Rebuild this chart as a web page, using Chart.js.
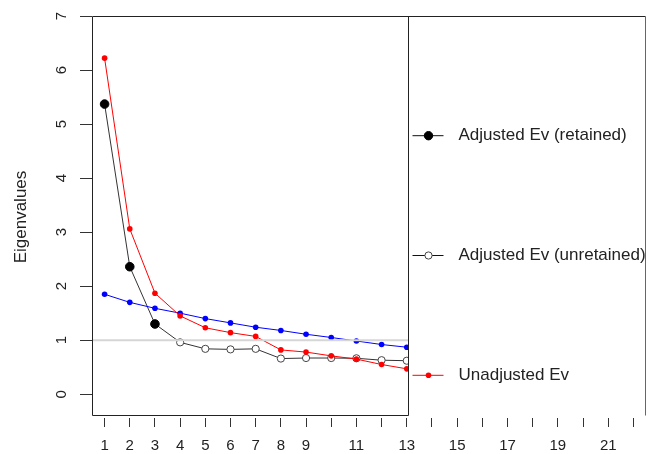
<!DOCTYPE html>
<html>
<head>
<meta charset="utf-8">
<title>Parallel analysis</title>
<script src="https://cdn.jsdelivr.net/npm/chart.js@4.4.1/dist/chart.umd.min.js"></script>
<style>
  body { margin: 0; background: #fff; }
  canvas { display: block; }
</style>
</head>
<body>
<canvas id="screePlot" width="656" height="454"></canvas>
<script>
// Component numbers and eigenvalues
const components = [1, 2, 3, 4, 5, 6, 7, 8, 9, 10, 11, 12, 13];
const adjustedEv = [5.37, 2.36, 1.30, 0.96, 0.84, 0.83, 0.84, 0.66, 0.67, 0.67, 0.665, 0.63, 0.62];
const unadjustedEv = [6.22, 3.06, 1.87, 1.45, 1.23, 1.14, 1.07, 0.82, 0.78, 0.71, 0.65, 0.55, 0.47];
const randomEv = [1.85, 1.70, 1.59, 1.50, 1.40, 1.32, 1.24, 1.18, 1.11, 1.05, 0.985, 0.92, 0.87];
const retainedCount = 3;

// Axis ticks
const xTickValues = [1, 2, 3, 4, 5, 6, 7, 8, 9, 10, 11, 12, 13, 14, 15, 16, 17, 18, 19, 20, 21, 22];
const xTickLabels = ["1", "2", "3", "4", "5", "6", "7", "8", "9", "", "11", "", "13", "", "15", "", "17", "", "19", "", "21", ""];
const yTickValues = [0, 1, 2, 3, 4, 5, 6, 7];
const legendLabels = ["Adjusted Ev (retained)", "Adjusted Ev (unretained)", "Unadjusted Ev"];

Chart.defaults.font.family = "'Liberation Sans', Arial, sans-serif";

const toPoints = (values) => values.map((v, i) => ({ x: components[i], y: v }));

// Reference line at eigenvalue 1, the plot box and the legend panel on the right
const framePlugin = {
  id: "frame",
  afterDatasetsDraw(chart) {
    const { ctx, chartArea, scales } = chart;
    const x = scales.x;
    const y = scales.y;
    const left = chartArea.left + 0.5;
    const top = chartArea.top + 0.5;
    const boxBottom = chartArea.bottom - 3 + 0.5;
    const panelLeft = Math.round(x.getPixelForValue(13)) + 1.5;
    const panelRight = chartArea.right - 0.5;

    ctx.save();

    // eigenvalue = 1
    ctx.strokeStyle = "#d6d6d6";
    ctx.lineWidth = 2;
    ctx.beginPath();
    ctx.moveTo(chartArea.left, y.getPixelForValue(1));
    ctx.lineTo(panelLeft, y.getPixelForValue(1));
    ctx.stroke();

    // legend panel covers the unused part of the x range
    ctx.fillStyle = "#fff";
    ctx.fillRect(panelLeft, top, panelRight - panelLeft, boxBottom - top + 1);

    ctx.lineWidth = 1;
    ctx.strokeStyle = "#222";
    ctx.beginPath();
    ctx.moveTo(panelRight, top);
    ctx.lineTo(left, top);
    ctx.lineTo(left, boxBottom);
    ctx.lineTo(panelLeft, boxBottom);
    ctx.lineTo(panelLeft, top);
    ctx.stroke();

    ctx.strokeStyle = "#666";
    ctx.beginPath();
    ctx.moveTo(panelRight, top);
    ctx.lineTo(panelRight, boxBottom);
    ctx.stroke();

    // legend entries
    const styles = [
      { line: "#111", fill: "#000", stroke: "#000", r: 4.2 },
      { line: "#111", fill: "#fff", stroke: "#444", r: 3.6 },
      { line: "#ff0000", fill: "#ff0000", stroke: null, r: 2.8 }
    ];
    const firstRow = 135.7;
    const rowGap = 119.8;
    ctx.font = "17px 'Liberation Sans', Arial, sans-serif";
    ctx.textBaseline = "middle";
    legendLabels.forEach((label, i) => {
      const s = styles[i];
      const ry = firstRow + i * rowGap;
      ctx.strokeStyle = s.line;
      ctx.lineWidth = 1;
      ctx.beginPath();
      ctx.moveTo(panelLeft + 4, ry);
      ctx.lineTo(panelLeft + 35, ry);
      ctx.stroke();
      ctx.beginPath();
      ctx.arc(panelLeft + 20, ry, s.r, 0, Math.PI * 2);
      ctx.fillStyle = s.fill;
      ctx.fill();
      if (s.stroke) {
        ctx.strokeStyle = s.stroke;
        ctx.stroke();
      }
      ctx.fillStyle = "#222";
      ctx.fillText(label, panelLeft + 50, ry);
    });

    ctx.restore();
  }
};

new Chart(document.getElementById("screePlot"), {
  type: "line",
  data: {
    datasets: [
      {
        label: "Unadjusted Ev",
        data: toPoints(unadjustedEv),
        borderColor: "#ff0000",
        backgroundColor: "#ff0000",
        borderWidth: 1,
        pointRadius: 2.8,
        pointBorderWidth: 0,
        order: 0
      },
      {
        label: "Random Ev",
        data: toPoints(randomEv),
        borderColor: "#0000ff",
        backgroundColor: "#0000ff",
        borderWidth: 1,
        pointRadius: 2.8,
        pointBorderWidth: 0,
        order: 1
      },
      {
        label: "Adjusted Ev",
        data: toPoints(adjustedEv),
        borderColor: "#333",
        borderWidth: 1,
        pointRadius: (c) => (c.dataIndex < retainedCount ? 4.3 : 3.6),
        pointBackgroundColor: (c) => (c.dataIndex < retainedCount ? "#000" : "#fff"),
        pointBorderColor: (c) => (c.dataIndex < retainedCount ? "#000" : "#444"),
        pointBorderWidth: 1,
        order: 2
      }
    ]
  },
  options: {
    responsive: false,
    animation: false,
    layout: { padding: { top: 16, right: 10, bottom: 0, left: 0 } },
    elements: { line: { tension: 0 } },
    plugins: {
      legend: { display: false },
      tooltip: { enabled: false }
    },
    scales: {
      x: {
        type: "linear",
        min: 0.5,
        max: 22.5,
        afterBuildTicks: (s) => { s.ticks = xTickValues.map((v) => ({ value: v })); },
        afterFit: (s) => { s.height = 36; },
        border: { display: false },
        grid: { drawOnChartArea: false, tickLength: 9, color: "#333", lineWidth: 1 },
        ticks: {
          autoSkip: false,
          maxRotation: 0,
          padding: 10,
          color: "#222",
          font: { size: 15 },
          callback: (v) => xTickLabels[xTickValues.indexOf(v)]
        }
      },
      y: {
        type: "linear",
        min: -0.44,
        max: 7,
        afterBuildTicks: (s) => { s.ticks = yTickValues.map((v) => ({ value: v })); },
        afterFit: (s) => {
          s.width = 92;
          // the rotated labels need no extra room above or below the plot
          s.paddingTop = 0;
          s.paddingBottom = 0;
        },
        border: { display: false },
        grid: { drawOnChartArea: false, tickLength: 12, color: "#333", lineWidth: 1 },
        ticks: {
          minRotation: 90,
          maxRotation: 90,
          crossAlign: "center",
          padding: 14,
          color: "#222",
          font: { size: 15 }
        },
        title: {
          display: true,
          text: "Eigenvalues",
          color: "#222",
          font: { size: 17 },
          padding: { top: 11, bottom: 0 }
        }
      }
    }
  },
  plugins: [framePlugin]
});
</script>
</body>
</html>
